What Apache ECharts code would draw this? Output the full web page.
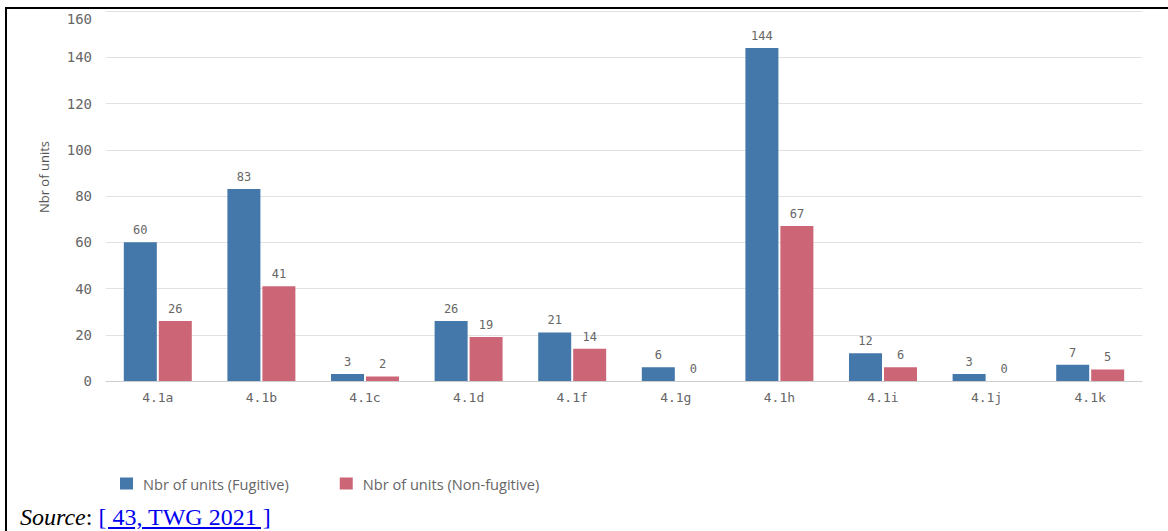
<!DOCTYPE html>
<html>
<head>
<meta charset="utf-8">
<script src="https://cdn.jsdelivr.net/npm/echarts@6/dist/echarts.min.js"></script>
<style>
  html, body { margin: 0; padding: 0; background: #fff; width: 1168px; height: 531px; overflow: hidden; }
  #chart { position: absolute; left: 0; top: 0; width: 1168px; height: 531px; }
  #topline { position: absolute; left: 5px; top: 7px; width: 1163px; height: 2px; background: #000; }
  #leftline { position: absolute; left: 5px; top: 7px; width: 2px; height: 524px; background: #000; }
  #source { position: absolute; left: 20px; top: 503px; font-family: "Liberation Serif", "Times New Roman", serif; font-size: 24px; line-height: 28px; color: #000; white-space: nowrap; }
  #source a { color: #0000ee; text-decoration: underline; }
</style>
</head>
<body>
<div id="chart"></div>
<div id="topline"></div>
<div id="leftline"></div>
<div id="source"><i>Source</i>: <a href="#">[ 43, TWG 2021 ]</a></div>
<script>
const categories = ['4.1a', '4.1b', '4.1c', '4.1d', '4.1f', '4.1g', '4.1h', '4.1i', '4.1j', '4.1k'];
const fugitive = [60, 83, 3, 26, 21, 6, 144, 12, 3, 7];
const nonFugitive = [26, 41, 2, 19, 14, 0, 67, 6, 0, 5];
const seriesNames = ['Nbr of units (Fugitive)', 'Nbr of units (Non-fugitive)'];
const yAxisTitle = 'Nbr of units';
const yTicks = { min: 0, max: 160, interval: 20 };

const chart = echarts.init(document.getElementById('chart'), null, { renderer: 'svg' });
const mono = '"DejaVu Sans Mono", monospace';
const labelStyle = { show: true, position: 'top', distance: 6, color: '#666', fontFamily: mono, fontSize: 12 };
chart.setOption({
  animation: false,
  color: ['#4477aa', '#cc6677'],
  grid: { left: 106, right: 26, top: 11, bottom: 150, containLabel: false },
  legend: {
    left: 115, top: 471,
    icon: 'rect', itemWidth: 13, itemHeight: 12, itemGap: 51,
    textStyle: { color: '#666', fontFamily: '"Open Sans", sans-serif', fontSize: 14.6, padding: [0, 0, 0, 5] },
    data: seriesNames
  },
  graphic: [{
    type: 'text', left: 37, top: 141, rotation: Math.PI / 2,
    style: { text: yAxisTitle, fill: '#555', font: '13px "Open Sans", sans-serif' }
  }],
  xAxis: {
    type: 'category', data: categories,
    axisLine: { lineStyle: { color: '#ccc' } },
    axisTick: { show: false },
    axisLabel: { color: '#666', fontFamily: mono, fontSize: 13, margin: 10 }
  },
  yAxis: {
    type: 'value', min: yTicks.min, max: yTicks.max, interval: yTicks.interval,
    axisLine: { show: false }, axisTick: { show: false },
    splitLine: { lineStyle: { color: '#e2e2e2' } },
    axisLabel: {
      color: '#666', fontFamily: mono, fontSize: 14, margin: 14,
      formatter: function (v) { return v === yTicks.max ? '{top|' + v + '}' : String(v); },
      rich: { top: { color: '#666', fontFamily: mono, fontSize: 14, padding: [16, 0, 0, 0] } }
    }
  },
  series: [
    { name: seriesNames[0], type: 'bar', data: fugitive, barWidth: 33, barGap: '6%', label: labelStyle },
    { name: seriesNames[1], type: 'bar', data: nonFugitive, barWidth: 33, label: labelStyle }
  ]
});
</script>
</body>
</html>
